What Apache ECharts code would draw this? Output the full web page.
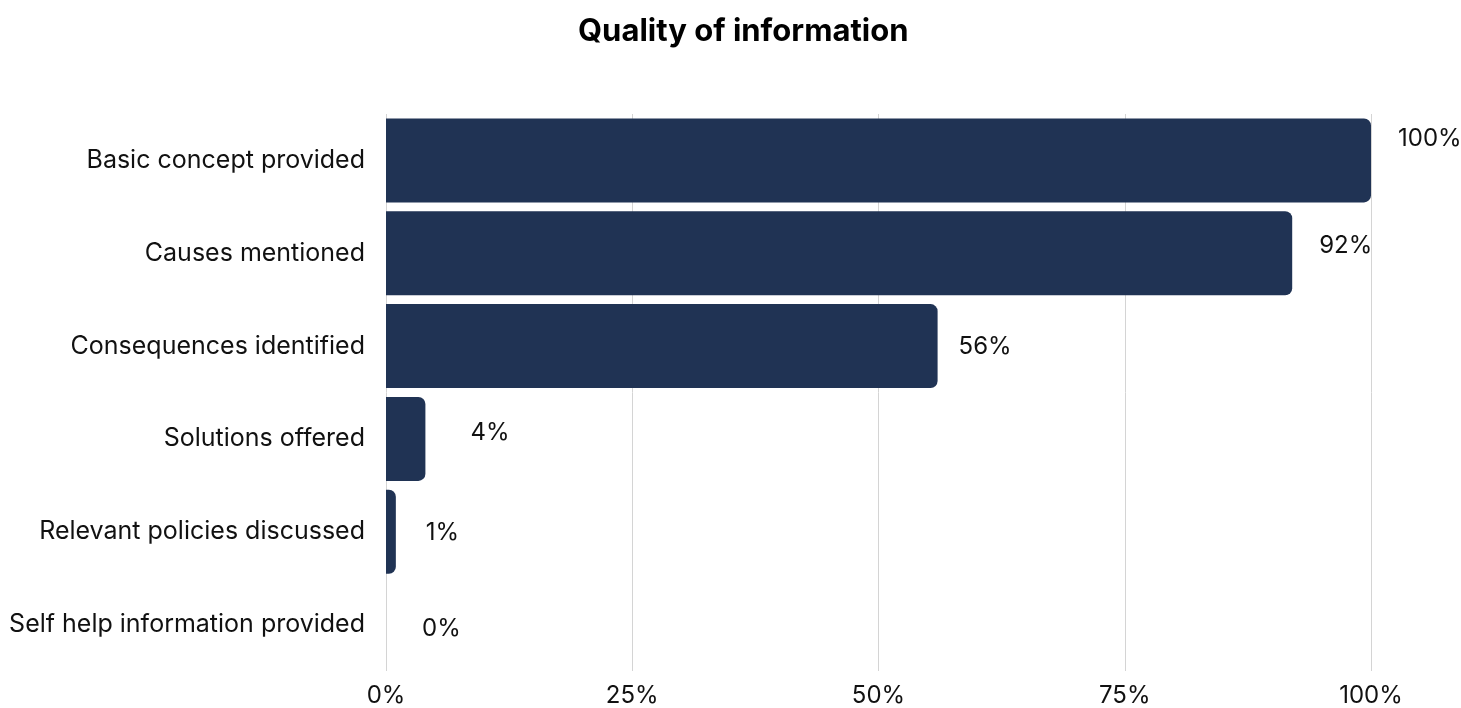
<!DOCTYPE html>
<html>
<head>
<meta charset="utf-8">
<script src="https://cdn.jsdelivr.net/npm/echarts@6/dist/echarts.min.js"></script>
<style>
  html, body { margin: 0; padding: 0; background: #fff; }
  #chart { width: 1461px; height: 708px; }
</style>
</head>
<body>
<div id="chart"></div>
<script>
const categories = [
  'Basic concept provided',
  'Causes mentioned',
  'Consequences identified',
  'Solutions offered',
  'Relevant policies discussed',
  'Self help information provided'
];
const values = [100, 92, 56, 4, 1, 0];
const xTicks = [0, 25, 50, 75, 100];

// label nudges [dx, dy] to follow the original's placement
const labelNudge = [[6, -22], [6, -7], [0, 1], [24, -6], [9, 1], [15, 4]];

const font = 'Inter, "Noto Sans", sans-serif';
const chart = echarts.init(document.getElementById('chart'));

chart.setOption({
  animation: false,
  title: {
    text: 'Quality of information',
    left: 573,
    top: 11,
    textStyle: { fontFamily: font, fontSize: 31, fontWeight: 'bold', color: '#000' }
  },
  grid: { left: 386, right: 90, top: 114, height: 558 },
  xAxis: {
    type: 'value',
    min: 0,
    max: 100,
    interval: 25,
    axisLine: { show: false },
    axisTick: { show: false },
    splitLine: { lineStyle: { color: '#d4d4d4', width: 1 } },
    axisLabel: {
      margin: 13,
      fontFamily: font,
      fontSize: 24,
      color: '#111',
      formatter: v => (xTicks.includes(v) ? v + '%' : '')
    }
  },
  yAxis: {
    type: 'category',
    inverse: true,
    data: categories,
    axisLine: { show: false },
    axisTick: { show: false },
    axisLabel: { margin: 21, fontFamily: font, fontSize: 25, color: '#111', padding: [3, 0, 0, 0] }
  },
  series: [{
    type: 'bar',
    barWidth: 84,
    data: values.map((v, i) => ({
      value: v,
      label: { offset: labelNudge[i] }
    })),
    itemStyle: { color: '#203354', borderRadius: [0, 7, 7, 0] },
    label: {
      show: true,
      position: 'right',
      distance: 21,
      fontFamily: font,
      fontSize: 24,
      color: '#111',
      formatter: p => p.value + '%'
    }
  }]
});
</script>
</body>
</html>
